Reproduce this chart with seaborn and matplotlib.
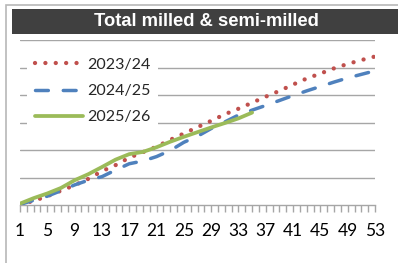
import matplotlib
matplotlib.use("Agg")
import matplotlib.pyplot as plt
import seaborn as sns
import pandas as pd
from matplotlib.patches import Rectangle
from matplotlib.lines import Line2D

weeks = list(range(1, 54, 2))
s2324 = [0.02, 0.15, 0.32, 0.52, 0.72, 0.95, 1.23, 1.45, 1.72, 1.92, 2.12, 2.37, 2.6, 2.83,
         3.06, 3.3, 3.5, 3.72, 3.94, 4.15, 4.38, 4.6, 4.78, 4.97, 5.13, 5.27, 5.4]
s2425 = [0.02, 0.17, 0.32, 0.52, 0.73, 0.9, 1.03, 1.27, 1.5, 1.6, 1.76, 1.98, 2.28, 2.5,
         2.78, 3.02, 3.27, 3.45, 3.62, 3.8, 3.98, 4.15, 4.31, 4.47, 4.62, 4.75, 4.88]
weeks26 = list(range(1, 36, 2))
s2526 = [0.05, 0.25, 0.42, 0.62, 0.9, 1.12, 1.38, 1.65, 1.85, 1.93, 2.1, 2.3, 2.48, 2.65,
         2.82, 2.98, 3.15, 3.36]
xticks = list(range(1, 54, 4))
title = "Total milled & semi-milled"

sns.set_theme(style="white")
plt.rcParams['font.family'] = ['Lato', 'DejaVu Sans']

W, H = 398, 263
fig = plt.figure(figsize=(W / 100, H / 100), dpi=100)
fig.patch.set_facecolor("white")

# outer border
fig.add_artist(Rectangle((6 / W, -0.1), 1.2, 1.1 - 5 / H, transform=fig.transFigure,
                         fill=False, edgecolor="#b8b8b8", lw=1.2))
# title bar
fig.add_artist(Rectangle((12 / W, 1 - 34 / H), 1.0, 25 / H, transform=fig.transFigure,
                         facecolor="#404040", edgecolor="none"))
fig.text(206 / W, 1 - 21.5 / H, title, color="white", ha="center", va="center",
         fontsize=13.2, fontweight="bold", family=["Liberation Sans", "DejaVu Sans"])

ax = fig.add_axes([20 / W, 1 - 205 / H, 355 / W, 165 / H])
ax.set_facecolor("none")

df1 = pd.DataFrame({"week": weeks, "v": s2324})
df2 = pd.DataFrame({"week": weeks, "v": s2425})
df3 = pd.DataFrame({"week": weeks26, "v": s2526})

red_ls = (0, (0.01, 2.4))
blue_ls = (0, (3.7, 4.3))
sns.lineplot(data=df1, x="week", y="v", ax=ax, color="#C0504D", lw=3.1,
             linestyle=red_ls, dash_capstyle="round", zorder=3)
sns.lineplot(data=df2, x="week", y="v", ax=ax, color="#4F81BD", lw=2.5,
             linestyle=blue_ls, dash_capstyle="round", zorder=4)
sns.lineplot(data=df3, x="week", y="v", ax=ax, color="#9BBB59", lw=2.7,
             solid_capstyle="round", zorder=5)

ax.set_xlim(1, 53)
ax.set_ylim(0, 6)
ax.set_yticks(range(1, 7))
ax.yaxis.grid(True, color="#a6a6a6", lw=1.0)
ax.set_yticklabels([])
ax.tick_params(axis="y", length=0)
ax.set_xticks(xticks)
ax.set_xticks(range(1, 54), minor=True)
ax.tick_params(axis="x", which="both", direction="out", length=5, color="#a6a6a6",
               width=1, bottom=True, labelsize=12.5, pad=8, labelcolor="black")
for s in ["left", "right", "top"]:
    ax.spines[s].set_visible(False)
ax.spines["bottom"].set_color("#a6a6a6")
ax.spines["bottom"].set_linewidth(1.0)
ax.set_xlabel("")
ax.set_ylabel("")

handles = [
    Line2D([], [], color="#C0504D", lw=3.1, linestyle=red_ls, dash_capstyle="round"),
    Line2D([], [], color="#4F81BD", lw=2.5, linestyle=blue_ls, dash_capstyle="round"),
    Line2D([], [], color="#9BBB59", lw=2.7, solid_capstyle="round"),
]
leg = ax.legend(handles, ["2023/24", "2024/25", "2025/26"], loc="upper left",
                bbox_to_anchor=(0.02, 0.94), frameon=True, fontsize=11.5,
                handlelength=3.0, handletextpad=0.25, labelspacing=0.75,
                borderpad=0.5, borderaxespad=0)
leg.get_frame().set_facecolor("white")
leg.get_frame().set_edgecolor("none")
leg.get_frame().set_alpha(1)
leg.set_zorder(10)

fig.savefig("out.png", dpi=100)
